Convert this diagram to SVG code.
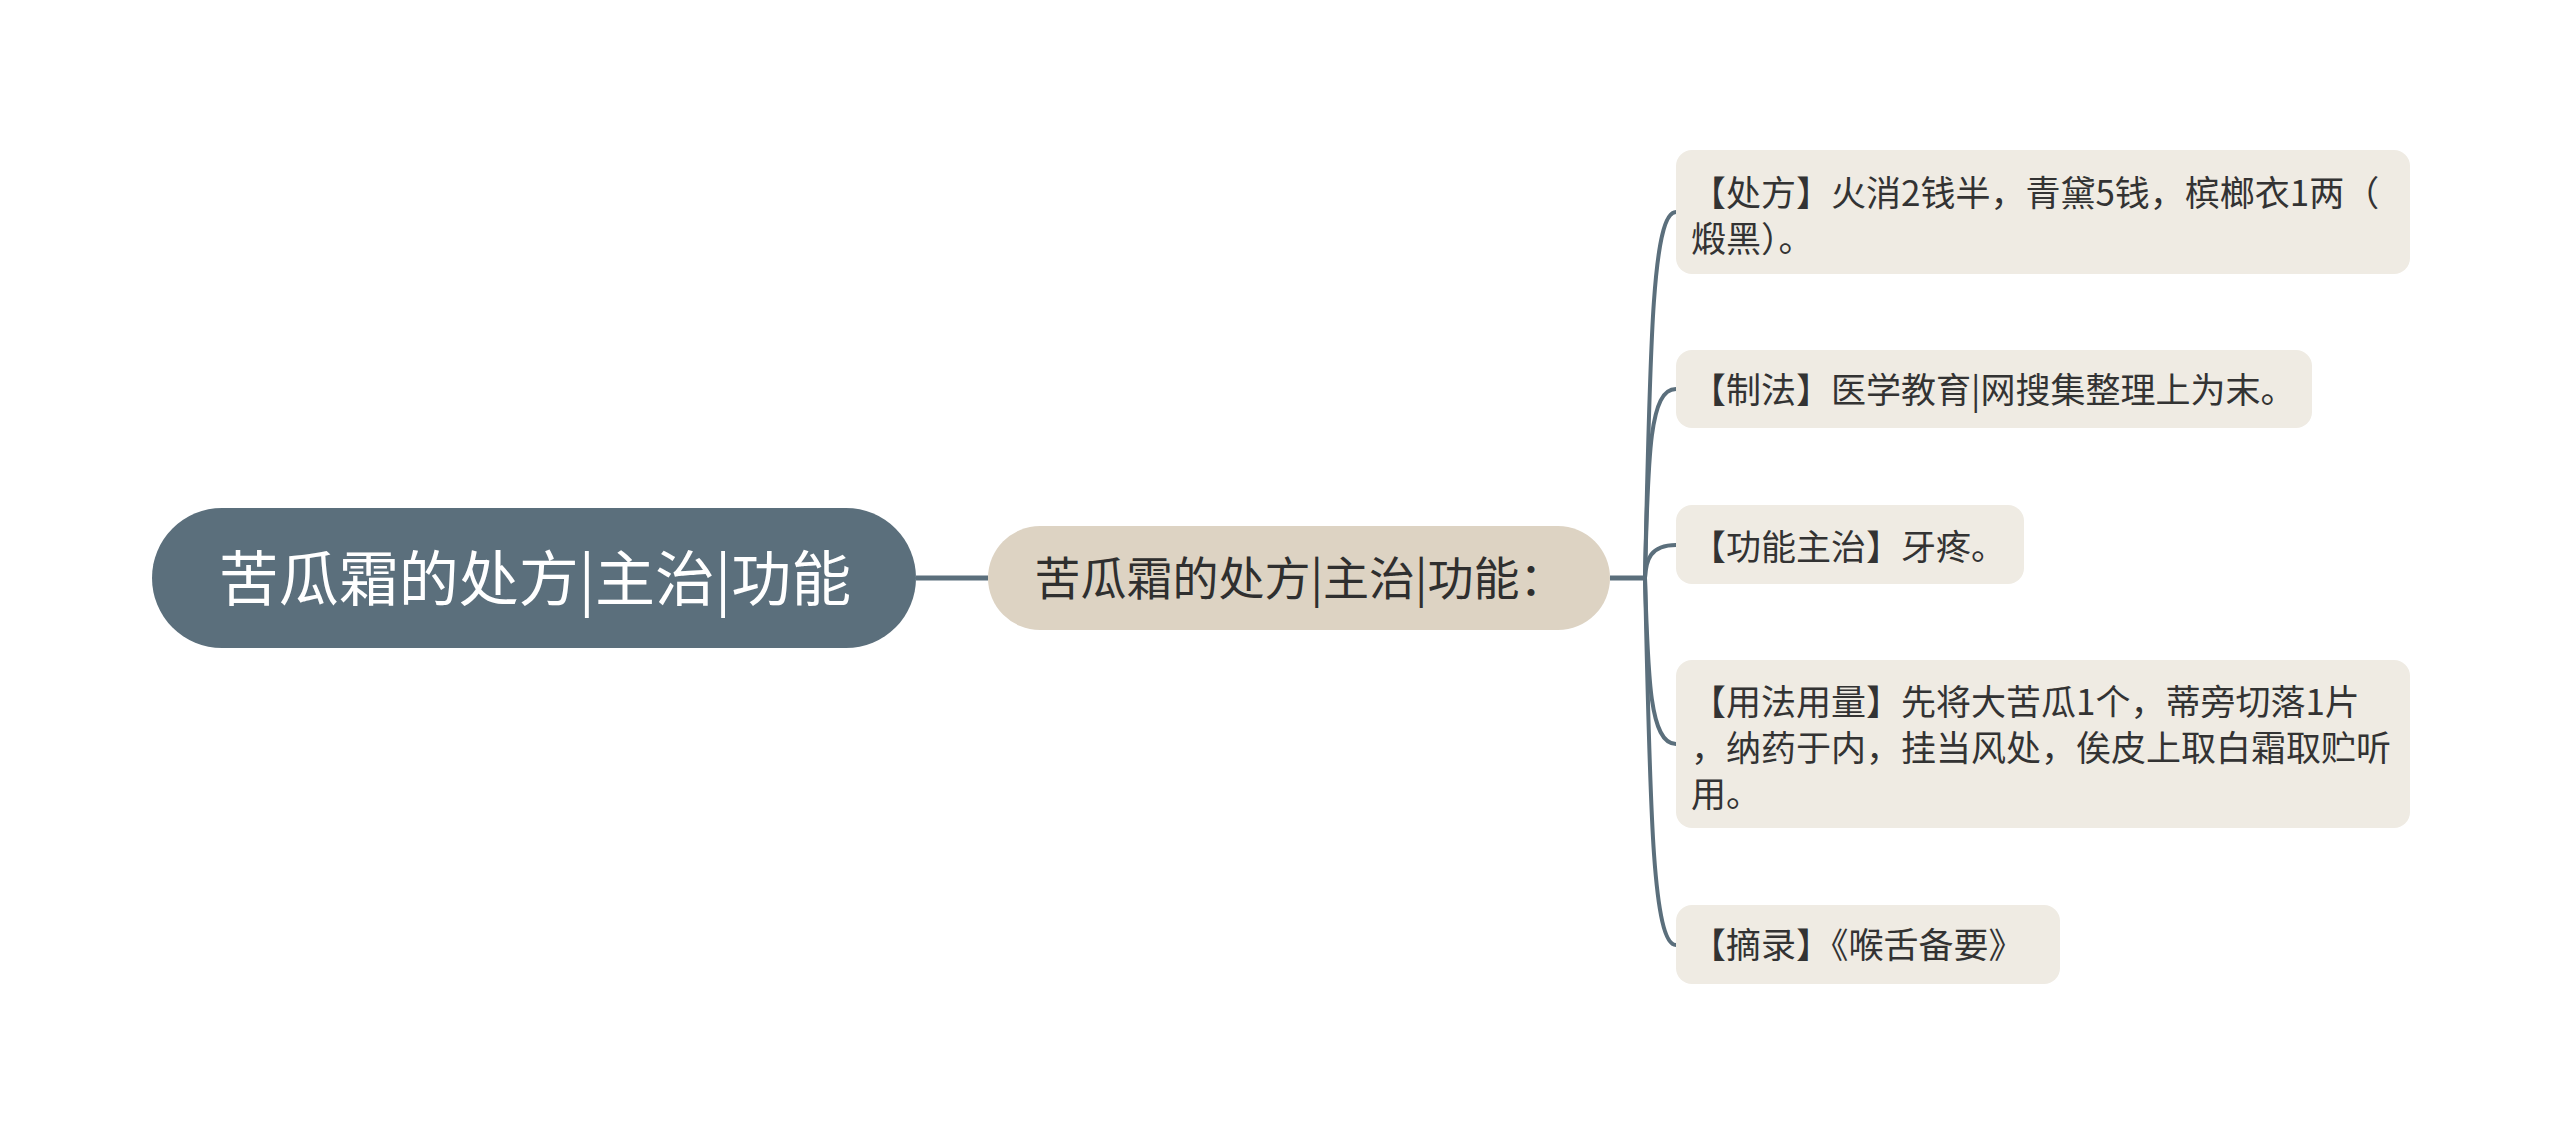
<svg xmlns="http://www.w3.org/2000/svg" width="2560" height="1135" viewBox="0 0 2560 1135">
<style>
text{font-family:"Noto Sans CJK SC","Noto Sans",sans-serif;}
.root{fill:#5b6f7c;}
.rootT{fill:#ffffff;font-size:60px;text-anchor:middle;}
.mid{fill:#ddd3c3;}
.midT{fill:#2f2f2f;font-size:46px;text-anchor:middle;}
.leaf{fill:#efebe3;}
.leafT{fill:#333333;font-size:35px;}
.edge{fill:none;stroke:#5b6f7c;stroke-width:4;stroke-linecap:round;}
.edgeMain{fill:none;stroke:#5b6f7c;stroke-width:5;}
</style>
<rect width="2560" height="1135" fill="#ffffff"/>
<g id="connectors">
<path class="edgeMain" d="M916 578 L988 578"/>
<path class="edgeMain" d="M1610 578 L1645 578"/>
<path class="edge" d="M1645 578 C1650 350 1652 212 1676 212"/>
<path class="edge" d="M1645 578 C1648 450 1650 389 1676 389"/>
<path class="edge" d="M1645 578 C1646 560 1650 545 1676 545"/>
<path class="edge" d="M1645 578 C1648 680 1650 744 1676 744"/>
<path class="edge" d="M1645 578 C1650 800 1652 945 1676 945"/>
</g>
<g id="node-root">
<rect class="root" x="152" y="508" width="764" height="140" rx="70"/>
<text class="rootT" x="535" y="601">苦瓜霜的处方|主治|功能</text>
</g>
<g id="node-mid">
<rect class="mid" x="988" y="526" width="622" height="104" rx="52"/>
<text class="midT" x="1300" y="595">苦瓜霜的处方|主治|功能：</text>
</g>
<g id="leaf-1">
<rect class="leaf" x="1676" y="150" width="734" height="124" rx="16"/>
<text class="leafT" x="1691" y="206">【处方】火消2钱半，青黛5钱，槟榔衣1两（</text>
<text class="leafT" x="1691" y="252">煅黑）。</text>
</g>
<g id="leaf-2">
<rect class="leaf" x="1676" y="350" width="636" height="78" rx="16"/>
<text class="leafT" x="1691" y="403">【制法】医学教育|网搜集整理上为末。</text>
</g>
<g id="leaf-3">
<rect class="leaf" x="1676" y="505" width="348" height="79" rx="16"/>
<text class="leafT" x="1691" y="560">【功能主治】牙疼。</text>
</g>
<g id="leaf-4">
<rect class="leaf" x="1676" y="660" width="734" height="168" rx="16"/>
<text class="leafT" x="1691" y="715">【用法用量】先将大苦瓜1个，蒂旁切落1片</text>
<text class="leafT" x="1691" y="761">，纳药于内，挂当风处，俟皮上取白霜取贮听</text>
<text class="leafT" x="1691" y="807">用。</text>
</g>
<g id="leaf-5">
<rect class="leaf" x="1676" y="905" width="384" height="79" rx="16"/>
<text class="leafT" x="1691" y="958">【摘录】《喉舌备要》</text>
</g>
</svg>
